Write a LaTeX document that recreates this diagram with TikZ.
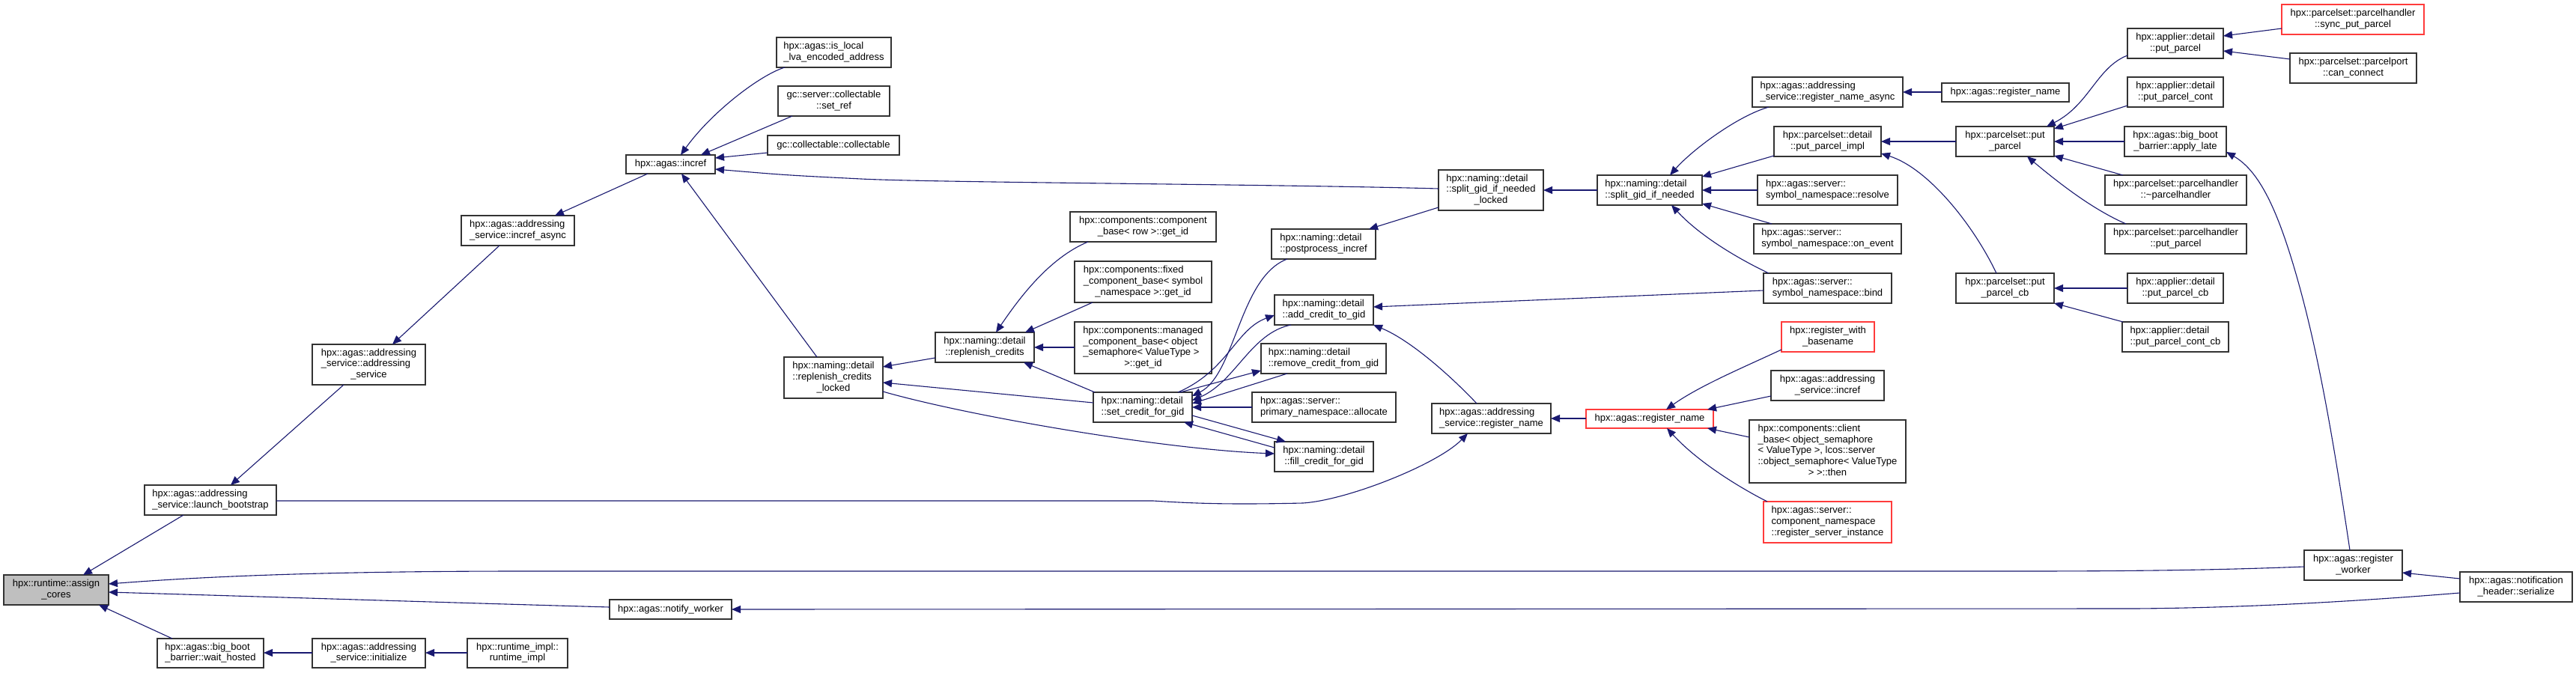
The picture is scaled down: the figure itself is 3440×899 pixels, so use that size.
\documentclass[tikz,border=0pt]{standalone}
\usepackage{fontspec}
\setmainfont{Liberation Sans}
\usetikzlibrary{arrows.meta}
\definecolor{edgec}{HTML}{191970}
\definecolor{boxc}{HTML}{333333}
\definecolor{redc}{HTML}{FF3B3B}
\definecolor{rootc}{HTML}{BFBFBF}
\newcommand{\lbl}[2]{\begin{tabular}{@{}l@{}}#1\\\multicolumn{1}{@{}c@{}}{#2}\end{tabular}}
\newcommand{\bx}[7]{\node[box,#7,minimum width={#4-#2},minimum height={#5-#3}] (#1) at ({(#2+#4)/2},{(#3+#5)/2}) {#6};}
\begin{document}
\begin{tikzpicture}[x=1pt,y=-1pt,
 box/.style={draw=boxc,line width=1.2pt,fill=white,inner sep=0pt,outer sep=0pt,font=\fontsize{13}{14.7}\selectfont,anchor=center},
 edge/.style={draw=edgec,line width=1.1pt,-{Triangle[length=12pt,width=10pt]}}]
\fill[white] (0,0) rectangle (3440,899);
\useasboundingbox (0,0) rectangle (3440,899);
% nodes
\bx{ac}{5}{768}{145}{808}{\lbl{hpx::runtime::assign}{\_cores}}{fill=rootc}
\bx{lb}{193}{648}{369}{688}{\lbl{hpx::agas::addressing}{\_service::launch\_bootstrap}}{}
\bx{asas}{417}{460}{568}{514}{\lbl{hpx::agas::addressing\\\_service::addressing}{\_service}}{}
\bx{wh}{210}{853}{352}{892}{\lbl{hpx::agas::big\_boot}{\_barrier::wait\_hosted}}{}
\bx{ini}{417}{853}{568}{892}{\lbl{hpx::agas::addressing}{\_service::initialize}}{}
\bx{rti}{624}{853}{758}{892}{\lbl{hpx::runtime\_impl::}{runtime\_impl}}{}
\bx{nw}{814}{801}{977}{827}{hpx::agas::notify\_worker}{}
\bx{ia}{616}{288}{767}{328}{\lbl{hpx::agas::addressing}{\_service::incref\_async}}{}
\bx{inc}{836}{207}{955}{232}{hpx::agas::incref}{}
\bx{isl}{1037}{50}{1190}{90}{\lbl{hpx::agas::is\_local}{\_lva\_encoded\_address}}{}
\bx{sr}{1039}{115}{1188}{155}{\lbl{gc::server::collectable}{::set\_ref}}{}
\bx{col}{1025}{181}{1201}{207}{gc::collectable::collectable}{}
\bx{rcl}{1047}{477}{1179}{532}{\lbl{hpx::naming::detail\\::replenish\_credits}{\_locked}}{}
\bx{cbr}{1429}{283}{1624}{323}{\lbl{hpx::components::component}{\_base< row >::get\_id}}{}
\bx{fcb}{1435}{349}{1618}{404}{\lbl{hpx::components::fixed\\\_component\_base< symbol}{\_namespace >::get\_id}}{}
\bx{mcb}{1435}{430}{1618}{499}{\lbl{hpx::components::managed\\\_component\_base< object\\\_semaphore< ValueType >}{>::get\_id}}{}
\bx{rc}{1249}{444}{1381}{484}{\lbl{hpx::naming::detail}{::replenish\_credits}}{}
\bx{sc}{1460}{524}{1592}{564}{\lbl{hpx::naming::detail}{::set\_credit\_for\_gid}}{}
\bx{ppinc}{1698}{306}{1837}{346}{\lbl{hpx::naming::detail}{::postprocess\_incref}}{}
\bx{acg}{1702}{394}{1834}{434}{\lbl{hpx::naming::detail}{::add\_credit\_to\_gid}}{}
\bx{rcg}{1684}{459}{1851}{499}{\lbl{hpx::naming::detail}{::remove\_credit\_from\_gid}}{}
\bx{pna}{1672}{524}{1864}{564}{\lbl{hpx::agas::server::}{primary\_namespace::allocate}}{}
\bx{fcg}{1702}{590}{1834}{630}{\lbl{hpx::naming::detail}{::fill\_credit\_for\_gid}}{}
\bx{sgl}{1921}{227}{2061}{281}{\lbl{hpx::naming::detail\\::split\_gid\_if\_needed}{\_locked}}{}
\bx{sg}{2133}{234}{2273}{274}{\lbl{hpx::naming::detail}{::split\_gid\_if\_needed}}{}
\bx{asrn}{1912}{539}{2071}{579}{\lbl{hpx::agas::addressing}{\_service::register\_name}}{}
\bx{rn}{2118}{547}{2288}{572}{hpx::agas::register\_name}{draw=redc}
\bx{rna}{2340}{103}{2541}{143}{\lbl{hpx::agas::addressing}{\_service::register\_name\_async}}{}
\bx{rnb}{2593}{111}{2763}{136}{hpx::agas::register\_name}{}
\bx{ppim}{2369}{169}{2512}{209}{\lbl{hpx::parcelset::detail}{::put\_parcel\_impl}}{}
\bx{res}{2347}{234}{2534}{274}{\lbl{hpx::agas::server::}{symbol\_namespace::resolve}}{}
\bx{one}{2342}{299}{2539}{339}{\lbl{hpx::agas::server::}{symbol\_namespace::on\_event}}{}
\bx{bnd}{2355}{365}{2526}{405}{\lbl{hpx::agas::server::}{symbol\_namespace::bind}}{}
\bx{rwb}{2379}{430}{2503}{470}{\lbl{hpx::register\_with}{\_basename}}{draw=redc}
\bx{asi}{2365}{495}{2516}{535}{\lbl{hpx::agas::addressing}{\_service::incref}}{}
\bx{cbt}{2336}{561}{2545}{645}{\lbl{hpx::components::client\\\_base< object\_semaphore\\< ValueType >, lcos::server\\::object\_semaphore< ValueType}{> >::then}}{}
\bx{rsi}{2355}{670}{2526}{725}{\lbl{hpx::agas::server::\\component\_namespace}{::register\_server\_instance}}{draw=redc}
\bx{pp}{2612}{169}{2743}{209}{\lbl{hpx::parcelset::put}{\_parcel}}{}
\bx{ppcb}{2612}{365}{2743}{405}{\lbl{hpx::parcelset::put}{\_parcel\_cb}}{}
\bx{app}{2841}{38}{2969}{78}{\lbl{hpx::applier::detail}{::put\_parcel}}{}
\bx{appc}{2841}{103}{2969}{143}{\lbl{hpx::applier::detail}{::put\_parcel\_cont}}{}
\bx{bal}{2837}{169}{2973}{209}{\lbl{hpx::agas::big\_boot}{\_barrier::apply\_late}}{}
\bx{dph}{2811}{234}{3000}{274}{\lbl{hpx::parcelset::parcelhandler}{::\textasciitilde parcelhandler}}{}
\bx{php}{2811}{299}{3000}{339}{\lbl{hpx::parcelset::parcelhandler}{::put\_parcel}}{}
\bx{appcb}{2841}{365}{2969}{405}{\lbl{hpx::applier::detail}{::put\_parcel\_cb}}{}
\bx{appccb}{2834}{430}{2976}{470}{\lbl{hpx::applier::detail}{::put\_parcel\_cont\_cb}}{}
\bx{spp}{3047}{6}{3237}{46}{\lbl{hpx::parcelset::parcelhandler}{::sync\_put\_parcel}}{draw=redc}
\bx{cc}{3058}{71}{3227}{111}{\lbl{hpx::parcelset::parcelport}{::can\_connect}}{}
\bx{rw}{3077}{735}{3208}{775}{\lbl{hpx::agas::register}{\_worker}}{}
\bx{nhs}{3285}{764}{3435}{804}{\lbl{hpx::agas::notification}{\_header::serialize}}{}
% edges
\draw[edge] ([shift={(52,40)}]lb.north west) -- ([shift={(106,0)}]ac.north west);
\draw[edge] ([shift={(0,22)}]rw.north west) .. controls (3000,760) and (2900,763) .. (2700,763) -- (700,763) .. controls (400,763) and (250,772) .. ([shift={(140,12)}]ac.north west);
\draw[edge] ([shift={(0,10)}]nw.north west) .. controls (600,805) and (350,797) .. ([shift={(140,23)}]ac.north west);
\draw[edge] ([shift={(20,0)}]wh.north west) -- ([shift={(127,40)}]ac.north west);
\draw[edge] ([shift={(42,54)}]asas.north west) -- ([shift={(115,0)}]lb.north west);
\draw[edge] ([shift={(51,40)}]ia.north west) -- ([shift={(107,0)}]asas.north west);
\draw[edge] ([shift={(29,25)}]inc.north west) -- ([shift={(125,0)}]ia.north west);
\draw[edge] ([shift={(11,40)}]isl.north west) .. controls (1015,100) and (950,150) .. ([shift={(73,0)}]inc.north west);
\draw[edge] ([shift={(19,40)}]sr.north west) -- ([shift={(100,0)}]inc.north west);
\draw[edge] ([shift={(0,23)}]col.north west) -- ([shift={(119,4)}]inc.north west);
\draw[edge] ([shift={(0,25)}]sgl.north west) .. controls (1700,246) and (1250,244) .. (1150,239) .. controls (1050,234) .. ([shift={(119,19)}]inc.north west);
\draw[edge] ([shift={(44,0)}]rcl.north west) -- ([shift={(74,25)}]inc.north west);
\draw[edge] ([shift={(0,19)}]ini.north west) -- ([shift={(142,19)}]wh.north west);
\draw[edge] ([shift={(0,19)}]rti.north west) -- ([shift={(151,19)}]ini.north west);
\draw[edge] ([shift={(176,21)}]lb.north west) -- (1540,669) .. controls (1600,673) and (1650,674) .. (1740,672) .. controls (1800,668) and (1920,620) .. ([shift={(48,40)}]asrn.north west);
\draw[edge] ([shift={(0,34)}]rc.north west) -- ([shift={(132,13)}]rcl.north west);
\draw[edge] ([shift={(0,14)}]sc.north west) -- ([shift={(132,34)}]rcl.north west);
\draw[edge] ([shift={(132,46)}]rcl.north west) .. controls (1290,555) and (1550,600) .. ([shift={(0,16)}]fcg.north west);
\draw[edge] ([shift={(24,40)}]cbr.north west) .. controls (1400,345) and (1360,400) .. ([shift={(81,0)}]rc.north west);
\draw[edge] ([shift={(24,55)}]fcb.north west) -- ([shift={(120,0)}]rc.north west);
\draw[edge] ([shift={(0,34)}]mcb.north west) -- ([shift={(132,20)}]rc.north west);
\draw[edge] ([shift={(2,0)}]sc.north west) -- ([shift={(118,40)}]rc.north west);
\draw[edge] ([shift={(21,40)}]ppinc.north west) .. controls (1655,370) and (1650,500) .. ([shift={(132,5)}]sc.north west);
\draw[edge] ([shift={(113,0)}]sc.north west) .. controls (1640,495) and (1650,440) .. ([shift={(0,27)}]acg.north west);
\draw[edge] ([shift={(22,40)}]acg.north west) .. controls (1670,445) and (1650,510) .. ([shift={(132,11)}]sc.north west);
\draw[edge] ([shift={(116,0)}]sc.north west) -- ([shift={(0,36)}]rcg.north west);
\draw[edge] ([shift={(35,40)}]rcg.north west) -- ([shift={(132,15)}]sc.north west);
\draw[edge] ([shift={(0,20)}]pna.north west) -- ([shift={(132,20)}]sc.north west);
\draw[edge] ([shift={(132,31)}]sc.north west) -- ([shift={(15,0)}]fcg.north west);
\draw[edge] ([shift={(0,8)}]fcg.north west) -- ([shift={(121,40)}]sc.north west);
\draw[edge] ([shift={(0,23)}]bnd.north west) -- ([shift={(132,16)}]acg.north west);
\draw[edge] ([shift={(60,0)}]asrn.north west) .. controls (1940,505) and (1885,455) .. ([shift={(132,40)}]acg.north west);
\draw[edge] ([shift={(0,50)}]sgl.north west) -- ([shift={(130,0)}]ppinc.north west);
\draw[edge] ([shift={(0,20)}]sg.north west) -- ([shift={(140,27)}]sgl.north west);
\draw[edge] ([shift={(22,40)}]rna.north west) .. controls (2320,155) and (2260,200) .. ([shift={(97,0)}]sg.north west);
\draw[edge] ([shift={(0,39)}]ppim.north west) -- ([shift={(140,2)}]sg.north west);
\draw[edge] ([shift={(0,20)}]res.north west) -- ([shift={(140,20)}]sg.north west);
\draw[edge] ([shift={(24,0)}]one.north west) -- ([shift={(140,38)}]sg.north west);
\draw[edge] ([shift={(7,0)}]bnd.north west) .. controls (2320,345) and (2270,315) .. ([shift={(99,40)}]sg.north west);
\draw[edge] ([shift={(0,12)}]rnb.north west) -- ([shift={(201,20)}]rna.north west);
\draw[edge] ([shift={(0,20)}]pp.north west) -- ([shift={(143,20)}]ppim.north west);
\draw[edge] ([shift={(54,0)}]ppcb.north west) .. controls (2635,300) and (2575,225) .. ([shift={(143,36)}]ppim.north west);
\draw[edge] ([shift={(0,36)}]app.north west) .. controls (2800,90) and (2790,140) .. ([shift={(121,0)}]pp.north west);
\draw[edge] ([shift={(0,38)}]appc.north west) -- ([shift={(131,3)}]pp.north west);
\draw[edge] ([shift={(0,20)}]bal.north west) -- ([shift={(131,20)}]pp.north west);
\draw[edge] ([shift={(24,0)}]dph.north west) -- ([shift={(131,39)}]pp.north west);
\draw[edge] ([shift={(28,0)}]php.north west) .. controls (2795,280) and (2750,245) .. ([shift={(95,40)}]pp.north west);
\draw[edge] ([shift={(0,20)}]appcb.north west) -- ([shift={(131,20)}]ppcb.north west);
\draw[edge] ([shift={(1,0)}]appccb.north west) -- ([shift={(131,40)}]ppcb.north west);
\draw[edge] ([shift={(0,32)}]spp.north west) -- ([shift={(128,10)}]app.north west);
\draw[edge] ([shift={(0,8)}]cc.north west) -- ([shift={(128,30)}]app.north west);
\draw[edge] ([shift={(61,0)}]rw.north west) .. controls (3115,580) and (3095,470) .. (3070,380) .. controls (3045,290) and (3020,230) .. ([shift={(136,34)}]bal.north west);
\draw[edge] ([shift={(0,9)}]nhs.north west) -- ([shift={(131,30)}]rw.north west);
\draw[edge] ([shift={(0,28)}]nhs.north west) .. controls (3150,803) and (3000,812) .. (2850,813) -- ([shift={(163,13)}]nw.north west);
\draw[edge] ([shift={(0,12)}]rn.north west) -- ([shift={(159,20)}]asrn.north west);
\draw[edge] ([shift={(0,37)}]rwb.north west) .. controls (2330,490) and (2270,515) .. ([shift={(107,0)}]rn.north west);
\draw[edge] ([shift={(0,34)}]asi.north west) -- ([shift={(162,0)}]rn.north west);
\draw[edge] ([shift={(0,23)}]cbt.north west) -- ([shift={(162,25)}]rn.north west);
\draw[edge] ([shift={(5,0)}]rsi.north west) .. controls (2330,655) and (2270,620) .. ([shift={(108,25)}]rn.north west);
\end{tikzpicture}
\end{document}
